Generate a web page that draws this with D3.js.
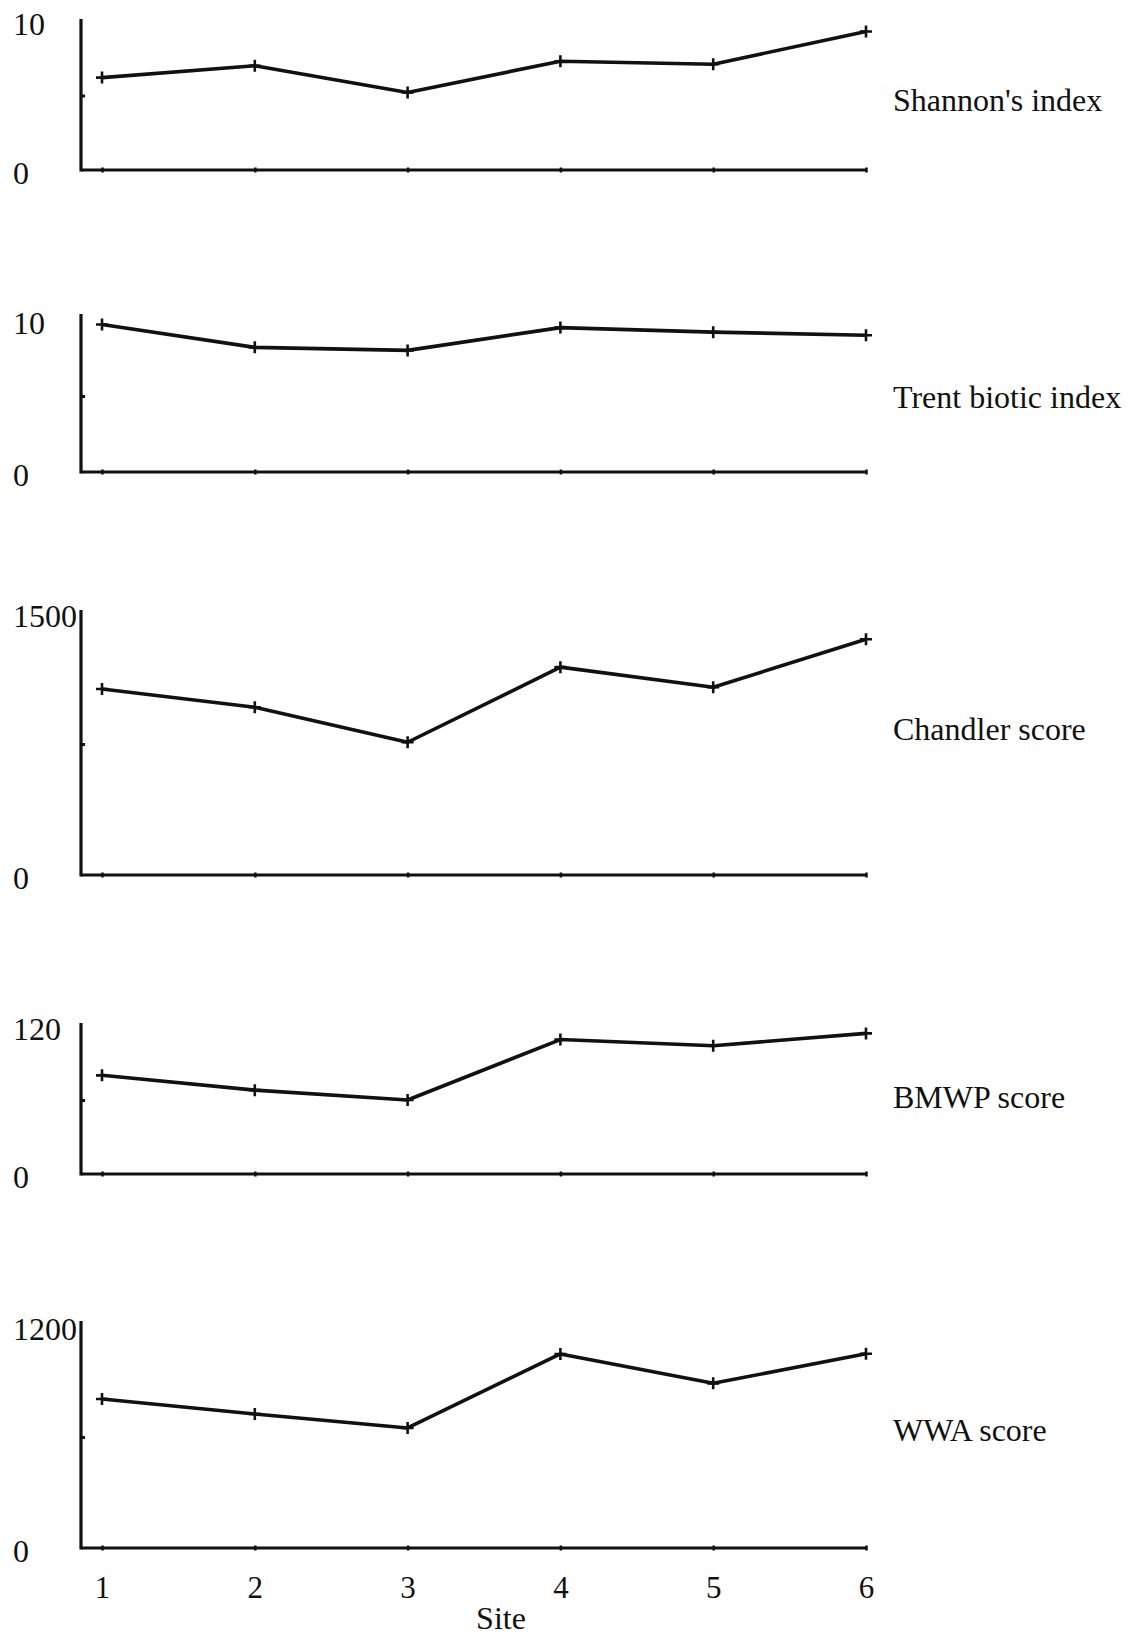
<!DOCTYPE html>
<html>
<head>
<meta charset="utf-8">
<script src="https://cdn.jsdelivr.net/npm/d3@7"></script>
<style>
  html, body { margin: 0; padding: 0; background: #fff; }
  svg { display: block; }
  text { font-family: "Liberation Serif", "Times New Roman", serif; fill: #111; }
</style>
</head>
<body>
<svg id="chart" width="1134" height="1637"></svg>
<script>
// Biotic indices and scores at six river sites
const sites = [1, 2, 3, 4, 5, 6];
const siteLabels = ["1", "2", "3", "4", "5", "6"];

const shannonIndex = [6.2, 7.0, 5.2, 7.3, 7.1, 9.3];
const trentBioticIndex = [9.7, 8.2, 8.0, 9.5, 9.2, 9.0];
const chandlerScore = [1065, 960, 760, 1190, 1075, 1350];
const bmwpScore = [80, 68, 60, 109, 104, 114];
const wwaScore = [805, 724, 649, 1049, 890, 1050];

const seriesNames = ["Shannon's index", "Trent biotic index", "Chandler score", "BMWP score", "WWA score"];
const seriesValues = [shannonIndex, trentBioticIndex, chandlerScore, bmwpScore, wwaScore];
const axisMax = [10, 10, 1500, 120, 1200];

// Vertical placement of each panel: pixel of zero, pixel of the axis maximum, top of axis line
const panelLayout = [
  { base: 170, top: 21, lineTop: 19, labelY: 111 },
  { base: 472, top: 320, lineTop: 314, labelY: 408 },
  { base: 875, top: 613, lineTop: 610, labelY: 740 },
  { base: 1174, top: 1026, lineTop: 1023, labelY: 1108 },
  { base: 1548, top: 1326, lineTop: 1321, labelY: 1441 }
];

const svg = d3.select("#chart");
const axisX = 81;
const x = d3.scaleLinear().domain([1, 6]).range([102, 866]);
const fmt = d3.format("d");

seriesValues.forEach((vals, i) => {
  const L = panelLayout[i];
  const y = d3.scaleLinear().domain([0, axisMax[i]]).range([L.base, L.top]);
  const g = svg.append("g");

  // y axis: labelled at 0 and maximum, labels flush left
  const yAxis = g.append("g")
    .attr("transform", `translate(${axisX},0)`)
    .call(d3.axisLeft(y).tickValues([0, axisMax[i]]).tickFormat(fmt).tickSize(0).tickPadding(0));
  yAxis.select(".domain").remove();
  yAxis.selectAll("text")
    .attr("text-anchor", "start")
    .attr("x", 13 - axisX)
    .attr("dy", "0.42em")
    .style("font-size", "32px")
    .attr("fill", "#111");

  // unlabelled half-way tick
  const mid = g.append("g")
    .attr("transform", `translate(${axisX},0)`)
    .call(d3.axisRight(y).tickValues([axisMax[i] / 2]).tickSize(4).tickFormat(""));
  mid.select(".domain").remove();
  mid.selectAll("line").attr("stroke", "#111").attr("stroke-width", 3);

  // vertical axis line
  g.append("line")
    .attr("x1", axisX).attr("x2", axisX)
    .attr("y1", L.base + 1.5).attr("y2", L.lineTop)
    .attr("stroke", "#111").attr("stroke-width", 3.2);

  // horizontal axis with small site ticks
  const xAxis = g.append("g")
    .attr("transform", `translate(0,${L.base})`)
    .call(d3.axisBottom(x).tickValues(sites).tickSizeInner(3).tickSizeOuter(0)
      .tickPadding(i === 4 ? 25 : 0)
      .tickFormat(i === 4 ? (d => siteLabels[d - 1]) : ""));
  xAxis.select(".domain")
    .attr("d", `M${axisX},0H${x(6)}`)
    .attr("stroke", "#111").attr("stroke-width", 2.8);
  xAxis.selectAll(".tick line").attr("stroke", "#111").attr("stroke-width", 2.5)
    .attr("y1", -2.5).attr("y2", 2.5);
  xAxis.selectAll("text")
    .style("font-size", "31px")
    .attr("fill", "#111");

  // data line
  const line = d3.line().x((d, k) => x(sites[k])).y(d => y(d));
  g.append("path")
    .datum(vals)
    .attr("d", line)
    .attr("fill", "none")
    .attr("stroke", "#111")
    .attr("stroke-width", 3.6)
    .attr("stroke-linejoin", "round");

  // plus markers
  g.selectAll("path.mark")
    .data(vals)
    .join("path")
    .attr("class", "mark")
    .attr("transform", (d, k) => `translate(${x(sites[k])},${y(d)})`)
    .attr("d", "M-6,0H6M0,-6V6")
    .attr("stroke", "#111")
    .attr("stroke-width", 2.6);

  // series name
  g.append("text")
    .attr("x", 893)
    .attr("y", L.labelY)
    .style("font-size", "32px")
    .text(seriesNames[i]);
});

// x axis title
svg.append("text")
  .attr("x", 501)
  .attr("y", 1629)
  .attr("text-anchor", "middle")
  .style("font-size", "32px")
  .text("Site");
</script>
</body>
</html>
